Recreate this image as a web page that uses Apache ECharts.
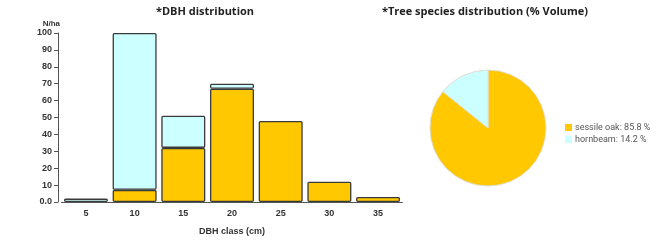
<!DOCTYPE html>
<html>
<head>
<meta charset="utf-8">
<script src="https://cdn.jsdelivr.net/npm/echarts@6/dist/echarts.min.js"></script>
<style>
  html, body { margin: 0; padding: 0; background: #fff; }
  #chart { width: 672px; height: 241px; }
</style>
</head>
<body>
<div id="chart"></div>
<script>
var dbhClasses = ["5", "10", "15", "20", "25", "30", "35"];
var oakPerHa = [null, 7.2, 32, 67, 48, 12, 3];
var hornbeamPerHa = [2, 92.8, 19, 3, null, null, null];
var speciesNames = ["sessile oak", "hornbeam"];
var speciesVolume = [85.8, 14.2];

var yellow = "#ffc800";
var cyan = "#ccffff";
var axisFont = "'Liberation Sans Narrow', 'Liberation Sans', Arial, sans-serif";

var myChart = echarts.init(document.getElementById("chart"));

var pieData = speciesNames.map(function (n, i) {
    return { name: n, value: speciesVolume[i] };
});

myChart.setOption({
    animation: false,
    title: [
        { text: "*DBH distribution", left: 200, top: 1, textAlign: "center",
          textStyle: { fontFamily: "Open Sans", fontSize: 11, fontWeight: "bold", color: "#222" } },
        { text: "*Tree species distribution (% Volume)", left: 480, top: 1, textAlign: "center",
          textStyle: { fontFamily: "Open Sans", fontSize: 11, fontWeight: "bold", color: "#222" } }
    ],
    grid: { left: 61.6, right: 269.6, top: 33, bottom: 36 },
    xAxis: {
        type: "category",
        data: dbhClasses,
        name: "DBH class (cm)",
        nameLocation: "middle",
        nameGap: 25,
        nameTextStyle: { fontFamily: axisFont, fontSize: 9, fontWeight: "bold", color: "#333" },
        axisLine: { lineStyle: { color: "#555", width: 1 } },
        axisTick: { alignWithLabel: true, length: 4, lineStyle: { color: "#555" } },
        axisLabel: { fontFamily: axisFont, fontSize: 9, fontWeight: "bold", color: "#333", margin: 7 }
    },
    yAxis: {
        type: "value",
        min: 0, max: 100, interval: 10,
        offset: 3.6,
        name: "N/ha",
        nameGap: 5,
        nameTextStyle: { fontFamily: axisFont, fontSize: 8, fontWeight: "bold", color: "#333", align: "right", padding: [0, -2, 0, 0] },
        axisLine: { show: true, lineStyle: { color: "#555", width: 1 } },
        axisTick: { show: true, length: 4, lineStyle: { color: "#555" } },
        splitLine: { show: false },
        axisLabel: {
            fontFamily: axisFont, fontSize: 9, fontWeight: "bold", color: "#333", margin: 6,
            formatter: function (v) { return v === 0 ? "0.0" : String(v); }
        }
    },
    legend: {
        data: speciesNames,
        orient: "vertical",
        left: 560, top: 118,
        itemWidth: 7, itemHeight: 7, itemGap: 3,
        icon: "rect",
        itemStyle: { borderWidth: 0 },
        textStyle: { fontFamily: "Roboto", fontSize: 9, color: "#555", padding: [0, 0, 0, -2] },
        formatter: function (name) {
            return name + ": " + speciesVolume[speciesNames.indexOf(name)] + " %";
        }
    },
    series: [
        {
            name: "oak", type: "bar", stack: "n", data: oakPerHa, barWidth: 44,
            itemStyle: { color: yellow, borderColor: "#3a3a3a", borderWidth: 1.3, borderRadius: 1 }
        },
        {
            name: "hb", type: "bar", stack: "n", data: hornbeamPerHa, barWidth: 44,
            itemStyle: { color: cyan, borderColor: "#3a3a3a", borderWidth: 1.3, borderRadius: 1 }
        },
        {
            type: "pie",
            center: [488, 128],
            radius: 58,
            startAngle: 90,
            data: pieData,
            color: [yellow, cyan],
            label: { show: false },
            labelLine: { show: false },
            itemStyle: { borderColor: "#e0ddd0", borderWidth: 1 }
        }
    ]
});
</script>
</body>
</html>
